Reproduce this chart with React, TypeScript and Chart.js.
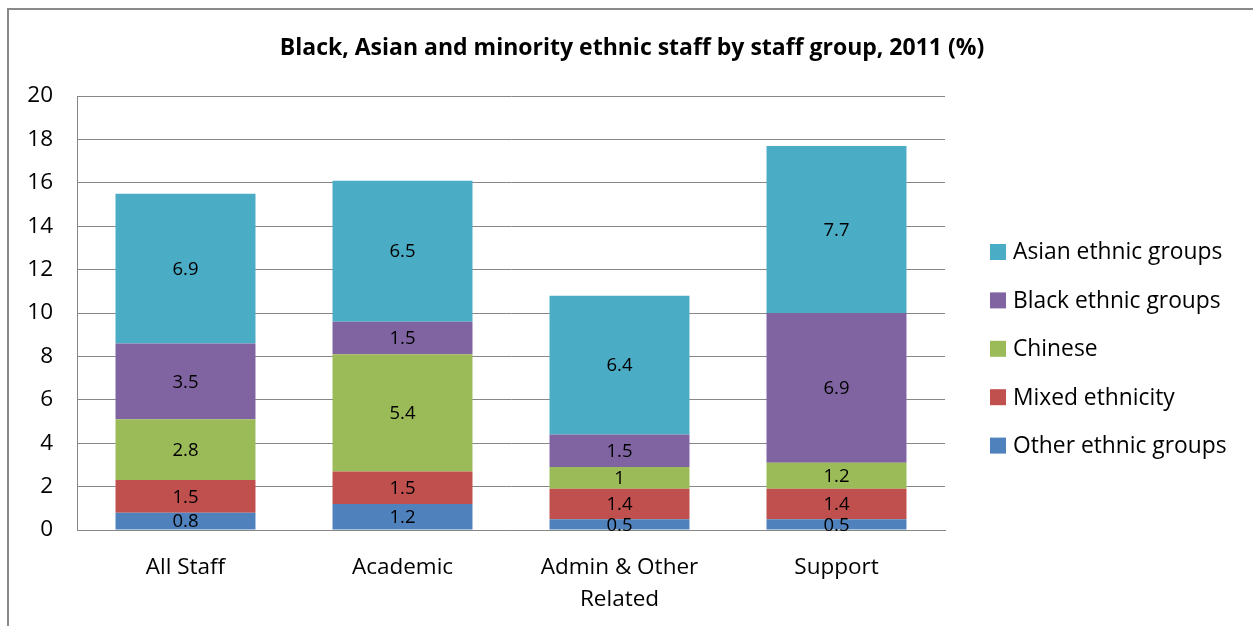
import React, { useEffect, useRef } from "react";
import { Chart, registerables } from "chart.js";

Chart.register(...registerables);

const FONT = "'Open Sans', Lato, 'DejaVu Sans', sans-serif";

const titleText = "Black, Asian and minority ethnic staff by staff group, 2011 (%)";
const categories: (string | string[])[] = ["All Staff", "Academic", ["Admin & Other", "Related"], "Support"];
const seriesNames = ["Other ethnic groups", "Mixed ethnicity", "Chinese", "Black ethnic groups", "Asian ethnic groups"];
const seriesColors = ["#4F81BD", "#C0504D", "#9BBB59", "#8064A2", "#4BACC6"];
const otherEthnic = [0.8, 1.2, 0.5, 0.5];
const mixedEthnicity = [1.5, 1.5, 1.4, 1.4];
const chinese = [2.8, 5.4, 1, 1.2];
const blackEthnic = [3.5, 1.5, 1.5, 6.9];
const asianEthnic = [6.9, 6.5, 6.4, 7.7];
const yMin = 0;
const yMax = 20;
const yStep = 2;

const seriesValues = [otherEthnic, mixedEthnicity, chinese, blackEthnic, asianEthnic];

const W = 1253;
const H = 626;

const labelPlugin = {
  id: "segLabels",
  afterDatasetsDraw(chart: any) {
    const ctx = chart.ctx;
    ctx.save();
    ctx.font = `18.5px ${FONT}`;
    ctx.fillStyle = "#000";
    ctx.textAlign = "center";
    ctx.textBaseline = "middle";
    chart.data.datasets.forEach((ds: any, i: number) => {
      const meta = chart.getDatasetMeta(i);
      meta.data.forEach((el: any, j: number) => {
        const p = el.getProps(["x", "y", "base"], true);
        ctx.fillText(String(ds.data[j]), p.x, (p.y + p.base) / 2 + 1);
      });
    });
    ctx.restore();
  },
};

const titleLegendPlugin = {
  id: "titleLegend",
  afterDraw(chart: any) {
    const ctx = chart.ctx;
    ctx.save();
    ctx.fillStyle = "#000";
    ctx.font = `bold 23px ${FONT}`;
    ctx.textAlign = "center";
    ctx.textBaseline = "middle";
    ctx.fillText(titleText, 632, 48);
    const ds = chart.data.datasets;
    ctx.font = `22.8px ${FONT}`;
    ctx.textAlign = "left";
    const n = ds.length;
    for (let k = 0; k < n; k++) {
      const d = ds[n - 1 - k];
      const cy = 252 + k * 48.4;
      ctx.fillStyle = d.backgroundColor;
      ctx.fillRect(990, cy - 8, 16, 16);
      ctx.fillStyle = "#000";
      ctx.fillText(d.label, 1013, cy + 1);
    }
    ctx.restore();
  },
};

export default function App() {
  const ref = useRef<HTMLCanvasElement>(null);
  useEffect(() => {
    if (!ref.current) return;
    const chart = new Chart(ref.current, {
      type: "bar",
      data: {
        labels: categories as any,
        datasets: seriesNames.map((name, i) => ({
          label: name,
          data: seriesValues[i],
          backgroundColor: seriesColors[i],
          borderWidth: 0,
          categoryPercentage: 1,
          barPercentage: 0.645,
        })),
      },
      options: {
        animation: false,
        responsive: false,
        devicePixelRatio: 1,
        layout: { padding: { left: 0, top: 96, right: W - 945, bottom: 0 } },
        plugins: {
          legend: { display: false },
          title: { display: false },
          tooltip: { enabled: false },
        },
        scales: {
          x: {
            stacked: true,
            grid: { display: false, drawTicks: false },
            border: { display: true, color: "#878787", width: 1 },
            ticks: {
              color: "#000",
              font: { family: FONT, size: 22.5, lineHeight: 1.42 },
              padding: 22,
              maxRotation: 0,
              autoSkip: false,
            },
            afterFit: (s: any) => {
              s.height = H - 530;
            },
          },
          y: {
            stacked: true,
            min: yMin,
            max: yMax,
            grid: { color: "#878787", lineWidth: 1, drawTicks: false },
            border: { display: true, color: "#878787", width: 1 },
            ticks: {
              stepSize: yStep,
              color: "#000",
              font: { family: FONT, size: 22.5 },
              padding: 24,
            },
            afterFit: (s: any) => {
              s.width = 77;
            },
          },
        },
      },
      plugins: [labelPlugin, titleLegendPlugin],
    } as any);
    return () => chart.destroy();
  }, []);
  return (
    <div style={{ position: "absolute", left: 0, top: 0, width: W, height: H, background: "#fff", overflow: "hidden" }}>
      <div
        style={{
          position: "absolute",
          left: 7,
          top: 8,
          width: W + 20,
          height: H + 20,
          border: "2px solid #898989",
          boxSizing: "border-box",
        }}
      />
      <canvas ref={ref} width={W} height={H} style={{ position: "absolute", left: 0, top: 0, width: W, height: H }} />
    </div>
  );
}
